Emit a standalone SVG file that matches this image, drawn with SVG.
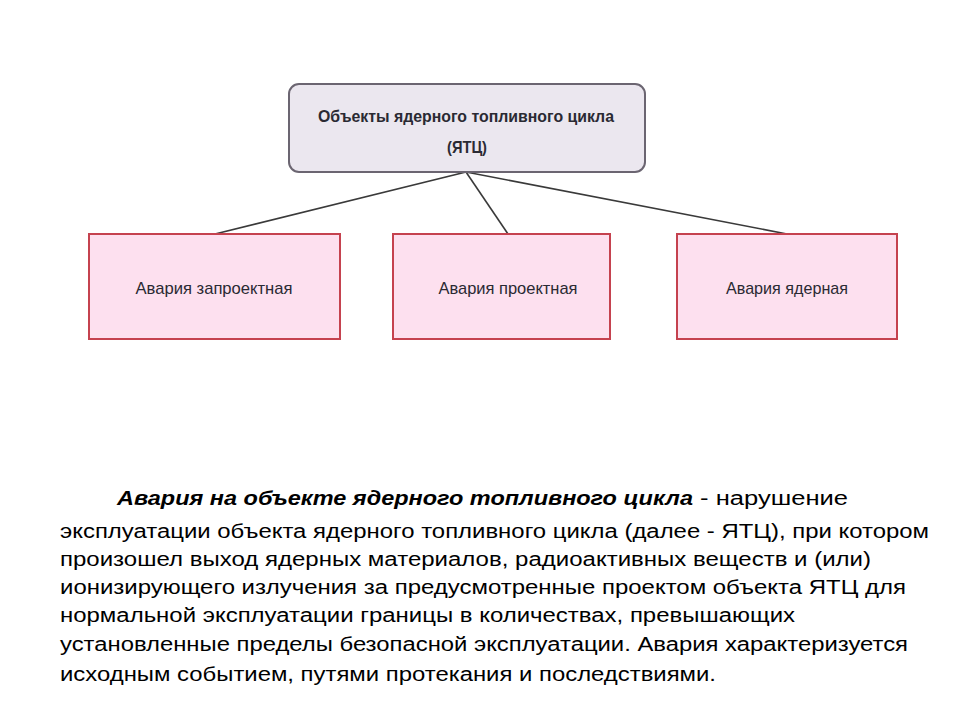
<svg xmlns="http://www.w3.org/2000/svg" width="960" height="720" viewBox="0 0 960 720">
<style>
.top{fill:#ebe7ef;stroke:#6b6571;stroke-width:2}
.box{fill:#fde0ef;stroke:#c5424f;stroke-width:2}
.lbl{font-family:"Liberation Sans",Arial,sans-serif;font-size:17px;fill:#2a2a33;text-anchor:middle}
.ttl{font-family:"Liberation Sans",Arial,sans-serif;font-size:17px;font-weight:bold;fill:#2a2a33;text-anchor:middle}
.conn{stroke:#3a3a3a;stroke-width:1.6;fill:none}
.para{font-family:"Liberation Sans",Arial,sans-serif;font-size:20px;fill:#000}
.bi{font-weight:bold;font-style:italic}
</style>
<rect width="960" height="720" fill="#fff"/>
<g id="connectors">
<line class="conn" x1="466" y1="172" x2="215" y2="234"/>
<line class="conn" x1="466" y1="172" x2="508" y2="234"/>
<line class="conn" x1="466" y1="172" x2="787" y2="234"/>
</g>
<g id="node-yatc">
<rect class="top" x="289" y="84" width="356" height="88" rx="10"/>
<text class="ttl" x="466" y="122" textLength="296" lengthAdjust="spacingAndGlyphs">Объекты ядерного топливного цикла</text>
<text class="ttl" x="467" y="153" textLength="40" lengthAdjust="spacingAndGlyphs">(ЯТЦ)</text>
</g>
<g id="node-zaproekt">
<rect class="box" x="89" y="234" width="251" height="105"/>
<text class="lbl" x="214" y="294" textLength="157" lengthAdjust="spacingAndGlyphs">Авария запроектная</text>
</g>
<g id="node-proekt">
<rect class="box" x="393" y="234" width="217" height="105"/>
<text class="lbl" x="508" y="294" textLength="139" lengthAdjust="spacingAndGlyphs">Авария проектная</text>
</g>
<g id="node-yadern">
<rect class="box" x="677" y="234" width="220" height="105"/>
<text class="lbl" x="787" y="294" textLength="122" lengthAdjust="spacingAndGlyphs">Авария ядерная</text>
</g>
<g id="definition">
<text class="para" x="117" y="505"><tspan class="bi" textLength="576" lengthAdjust="spacingAndGlyphs">Авария на объекте ядерного топливного цикла</tspan><tspan textLength="155" lengthAdjust="spacingAndGlyphs"> - нарушение</tspan></text>
<text class="para" x="60" y="538" textLength="869" lengthAdjust="spacingAndGlyphs">эксплуатации объекта ядерного топливного цикла (далее - ЯТЦ), при котором</text>
<text class="para" x="60" y="566" textLength="811" lengthAdjust="spacingAndGlyphs">произошел выход ядерных материалов, радиоактивных веществ и (или)</text>
<text class="para" x="60" y="594" textLength="846" lengthAdjust="spacingAndGlyphs">ионизирующего излучения за предусмотренные проектом объекта ЯТЦ для</text>
<text class="para" x="60" y="622" textLength="735" lengthAdjust="spacingAndGlyphs">нормальной эксплуатации границы в количествах, превышающих</text>
<text class="para" x="60" y="651" textLength="848" lengthAdjust="spacingAndGlyphs">установленные пределы безопасной эксплуатации. Авария характеризуется</text>
<text class="para" x="60" y="681" textLength="656" lengthAdjust="spacingAndGlyphs">исходным событием, путями протекания и последствиями.</text>
</g>
</svg>
